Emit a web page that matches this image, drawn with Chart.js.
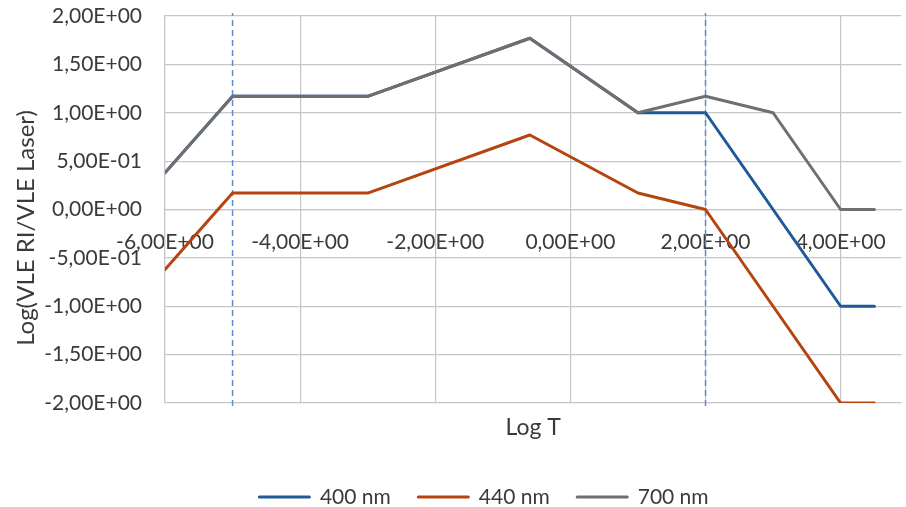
<!DOCTYPE html>
<html>
<head>
<meta charset="utf-8">
<script src="https://cdn.jsdelivr.net/npm/chart.js@4/dist/chart.umd.min.js"></script>
<style>
    html, body { margin: 0; padding: 0; background: #fff; }
    #wrap { width: 906px; height: 507px; }
</style>
</head>
<body>
<div id="wrap"><canvas id="vleChart" width="906" height="507"></canvas></div>
<script>
// values
const logT = [-6, -5, -3, -0.6, 1, 2, 3, 4, 4.5];
const nm400 = [0.38, 1.17, 1.17, 1.77, 1.0, 1.0, 0, -1, -1];
const nm440 = [-0.62, 0.17, 0.17, 0.77, 0.17, 0, -1, -2, -2];
const nm700 = [0.38, 1.17, 1.17, 1.77, 1.0, 1.17, 1.0, 0, 0];
const seriesLabels = ['400 nm', '440 nm', '700 nm'];
const markerT = [-5, 2];          // dashed vertical lines
const markerSpan = [-2.03, 2.03];
const xTicks = [-6, -4, -2, 0, 2, 4];

const GRID = '#c6c6c6';
const TEXT = '#3a3a3a';
const FONT = 'Lato';

// Excel style: 1,50E+00
const sci = (v) => {
    if (v === 0) return '0,00E+00';
    const e = Math.floor(Math.log10(Math.abs(v)) + 1e-9);
    const m = v / Math.pow(10, e);
    const ae = Math.abs(e);
    return m.toFixed(2).replace('.', ',') + 'E' + (e < 0 ? '-' : '+') + (ae < 10 ? '0' : '') + ae;
};

const toPts = (ys) => logT.map((x, i) => ({ x: x, y: ys[i] }));

const lineSet = (label, ys, color, order) => ({
    label: label,
    data: toPts(ys),
    borderColor: color,
    backgroundColor: color,
    borderWidth: 3,
    borderJoinStyle: 'round',
    borderCapStyle: 'round',
    pointRadius: 0,
    tension: 0,
    order: order
});

const markerSets = markerT.map(t => ({
    label: '',
    data: markerSpan.map(y => ({ x: t, y: y })),
    borderColor: '#5b8ed0',
    borderWidth: 1.5,
    borderDash: [6, 4],
    pointRadius: 0,
    clip: false,
    order: 5
}));

// nudge legend to where the original sits
const legendShift = {
    id: 'legendShift',
    afterLayout(chart) {
        chart.legend.left += 31;
        chart.legend.right += 31;
    }
};

new Chart(document.getElementById('vleChart').getContext('2d'), {
    type: 'line',
    data: {
        datasets: [
            lineSet(seriesLabels[0], nm400, '#1f5a96', 2),
            lineSet(seriesLabels[1], nm440, '#b5440f', 1),
            lineSet(seriesLabels[2], nm700, '#6f6f6f', 0),
            ...markerSets
        ]
    },
    options: {
        responsive: false,
        animation: false,
        devicePixelRatio: 1,
        layout: { padding: { top: 16, right: 0, bottom: -10.5, left: 0 } },
        plugins: {
            tooltip: { enabled: false },
            legend: {
                position: 'bottom',
                labels: {
                    boxWidth: 50,
                    boxHeight: 0,
                    padding: 27.5,
                    color: TEXT,
                    font: { family: FONT, size: 21 },
                    filter: (item) => item.text !== '',
                    sort: (a, b) => a.datasetIndex - b.datasetIndex
                }
            }
        },
        scales: {
            x: {
                type: 'linear',
                min: -6,
                max: 4.9,
                position: { y: 0 },
                afterBuildTicks: (s) => { s.ticks = xTicks.map(v => ({ value: v })); },
                grid: { color: GRID, lineWidth: 1.2, drawTicks: false },
                border: { color: GRID, width: 1.2 },
                ticks: {
                    callback: (v) => sci(v),
                    color: TEXT,
                    font: { family: FONT, size: 21 },
                    padding: 20,
                    maxRotation: 0,
                    autoSkip: false
                }
            },
            x2: {
                type: 'linear',
                min: -6,
                max: 4.9,
                position: 'bottom',
                ticks: { display: false },
                grid: { display: false },
                border: { display: false },
                title: {
                    display: true,
                    text: 'Log T',
                    color: TEXT,
                    font: { family: FONT, size: 23 },
                    padding: { top: 0, bottom: 18 }
                },
                afterFit: (s) => { s.height = 56; }
            },
            y: {
                min: -2,
                max: 2,
                grid: { color: GRID, lineWidth: 1.2, drawTicks: true, tickLength: 23, tickColor: 'rgba(0,0,0,0)' },
                border: { color: GRID, width: 1.2 },
                ticks: {
                    stepSize: 0.5,
                    callback: (v) => sci(v),
                    color: TEXT,
                    font: { family: FONT, size: 21 },
                    padding: 0
                },
                title: {
                    display: true,
                    // trailing spaces push the centred title a bit lower, as in the original
                    text: 'Log(VLE RI/VLE Laser)      ',
                    color: TEXT,
                    font: { family: FONT, size: 24 },
                    padding: { top: 12, bottom: 0 }
                },
                afterFit: (s) => { s.width = 165; }
            }
        }
    },
    plugins: [legendShift]
});
</script>
</body>
</html>
